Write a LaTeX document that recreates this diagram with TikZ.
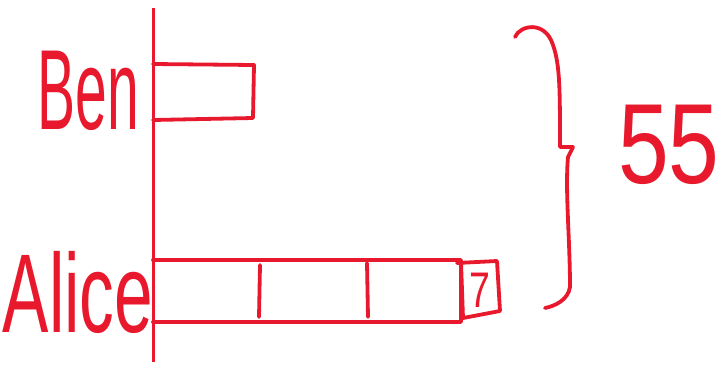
\documentclass[tikz,border=0pt]{standalone}
\usepackage{fontspec}
\setmainfont{Liberation Sans}
\definecolor{ink}{RGB}{232,25,44}
\begin{document}
\begin{tikzpicture}[x=1pt,y=-1pt,
  pen/.style={draw=ink,line width=3.8pt,line cap=round,line join=round},
  lbl/.style={text=ink,inner sep=0pt,anchor=center}]
\useasboundingbox (0,0) rectangle (723,365);
% axis
\coordinate (axtop) at (153,8);
\coordinate (axbot) at (153,362);
\draw[pen,line width=3pt,line cap=butt] (axtop) -- (axbot);
% Ben bar
\draw[pen] (153,64) -- (254,65) -- (253,118) -- (153,120);
% Alice bar
\draw[pen] (153,260) -- (461,260) -- (461,322) -- (153,322);
\draw[pen] (260,265) -- (259,317);
\draw[pen] (367,263) -- (368,317);
% small box
\draw[pen] (457,263) -- (497,261) -- (500,311) -- (463,318) -- (461,262);
\node[lbl,font=\fontsize{50}{50}\selectfont,xscale=0.75] (seven) at (480,290) {7};
% labels
\node[lbl,font=\fontsize{114}{114}\selectfont,xscale=0.5] (ben) at (88,91) {Ben};
\node[lbl,font=\fontsize{112}{112}\selectfont,xscale=0.62] (alice) at (78,292) {Alice};
% brace
\draw[pen] (515,37) .. controls (520,25) and (545,20) .. (553,45)
  .. controls (560,65) and (560,90) .. (560,147)
  -- (573,147) -- (568,157)
  .. controls (565,190) and (570,240) .. (570,287)
  .. controls (568,300) and (555,306) .. (545,308);
\node[lbl,font=\fontsize{114}{114}\selectfont,xscale=0.8] (total) at (669,145) {55};
\end{tikzpicture}
\end{document}
